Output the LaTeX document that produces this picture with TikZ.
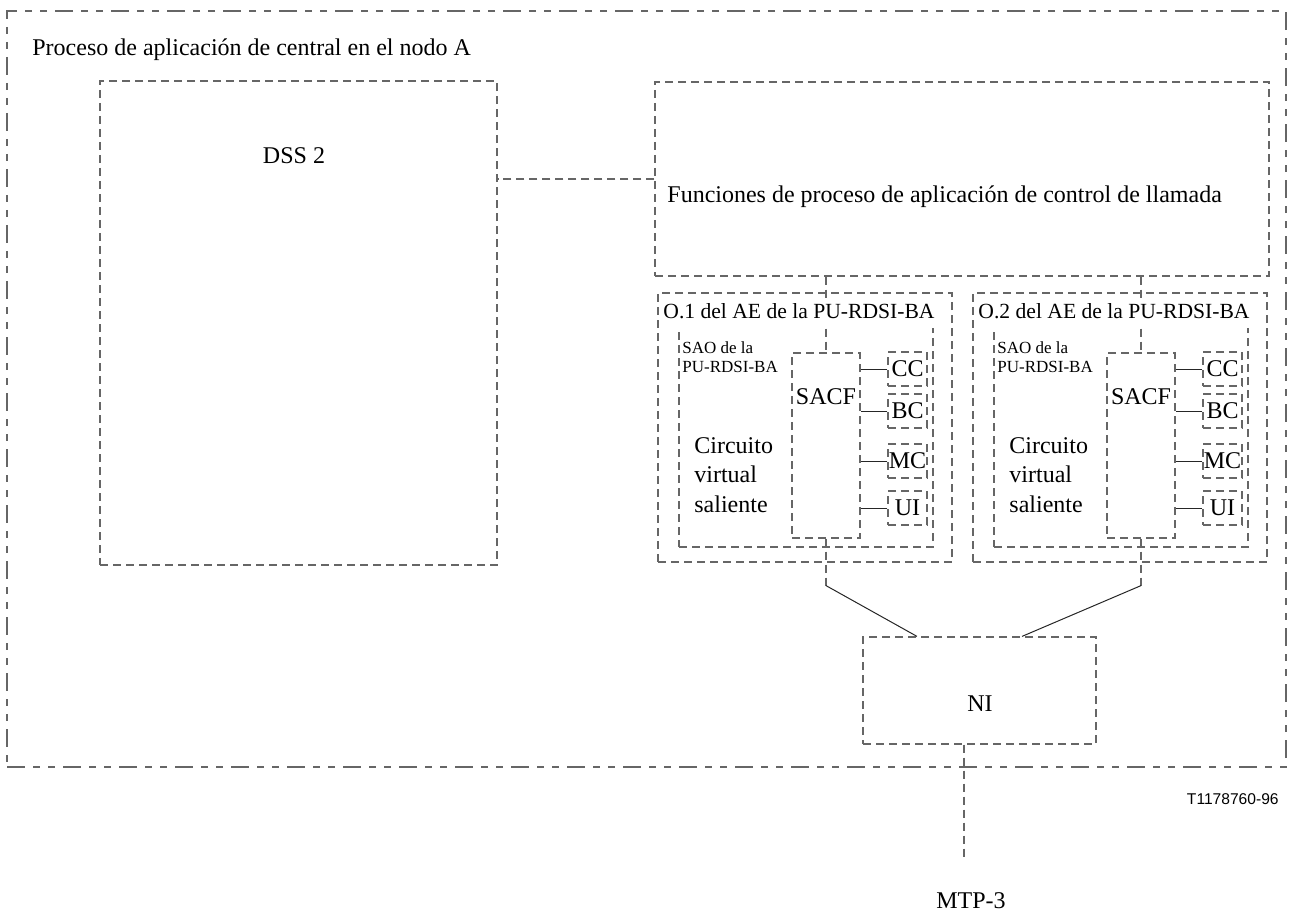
\documentclass[tikz,border=0pt]{standalone}
\usepackage{fontspec}
\setmainfont{Liberation Serif}
\newfontfamily\helv{Liberation Sans}
\usetikzlibrary{fit,positioning}

\tikzset{
  caja/.style={draw=black!60, line width=0.6pt, dash pattern=on 4pt off 2.5pt, inner sep=0pt},
  marco/.style={draw=black!60, line width=0.6pt, dash pattern=on 9pt off 4pt on 3.5pt off 4pt on 3.5pt off 4pt, inner sep=0pt},
  enlace/.style={draw=black!60, line width=0.6pt, dash pattern=on 4pt off 2.5pt},
  linea/.style={draw=black!85, line width=0.5pt},
  texto/.style={font=\fontsize{12}{14.75}\selectfont, inner sep=0pt},
  titae/.style={font=\fontsize{10.8}{12}\selectfont, anchor=west, fill=white, inner xsep=1pt, inner ysep=2pt, text height=8pt, text depth=3pt},
  sao/.style={font=\fontsize{8.5}{9.5}\selectfont, anchor=west, align=left, inner sep=0pt},
  mod/.style={caja, minimum width=19.5pt, minimum height=17pt, font=\fontsize{12}{14}\selectfont}
}

\begin{document}
\begin{tikzpicture}[x=0.5pt, y=-0.5pt]
  \useasboundingbox (0,0) rectangle (1289,915);

  \node[marco, fit={(7,11) (1286,767)}] (nodoA) {};
  \node[texto, anchor=west] (nodoAt) at (32,50) {Proceso de aplicación de central en el nodo A};

  \node[caja, fit={(100,81) (497,565)}] (dss) {};
  \node[texto] (dsst) at (294,156) {DSS 2};

  \node[caja, fit={(655,82) (1269,276)}] (llam) {};
  \node[texto, anchor=west] (llamt) at (667,197) {Funciones de proceso de aplicación de control de llamada};
  \draw[enlace] (llam.west) -- (llam.west -| dss.east);

  \node[caja, fit={(863,637) (1096,744)}] (ni) {};
  \node[texto] (nit) at (980,704) {NI};

  \foreach \n/\dx/\dn in {1/0/-31.25pt, 2/315/21.25pt} {
    \node[caja, fit={({658+\dx},293) ({952+\dx},562)}] (ae\n) {};
    \node[caja, fit={({679+\dx},323) ({933+\dx},547)}] (sao\n) {};
    \node[caja, fit={({792+\dx},353) ({860+\dx},538)}] (sacf\n) {};
    \node[texto] (sacft\n) at ([yshift=-22pt]sacf\n.north) {SACF};
    \node[sao] (saot\n) at ({682+\dx},357) {SAO de la\\PU-RDSI-BA};
    \node[texto, anchor=west, align=left] (cvs\n) at ({694+\dx},475) {Circuito\\virtual\\saliente};
    \foreach \k/\y in {CC/369, BC/411, MC/461, UI/508} {
      \node[mod] (\k\n) at ({907.5+\dx},\y) {\k};
      \draw[linea] (\k\n.west) -- (\k\n.west -| sacf\n.east);
    }
    \coordinate (q\n) at ([yshift=-11.5pt]ae\n.south -| sacf\n);
    \draw[enlace] (llam.south -| sacf\n) -- (sacf\n.north);
    \draw[enlace] (sacf\n.south) -- (q\n);
    \draw[linea] (q\n) -- ([xshift=\dn]ni.north);
    \node[titae] (aet\n) at ({661+\dx},313) {O.\n\ del AE de la PU-RDSI-BA};
  }

  \node[texto] (mtp) at (971,901) {MTP-3};
  \coordinate (mtpfin) at (964,860);
  \draw[enlace] (ni.south -| mtpfin) -- (mtpfin);

  \node[font=\helv\fontsize{7.8}{9}\selectfont, anchor=east, inner sep=0pt] (ref) at (1279,799) {T1178760-96};
\end{tikzpicture}
\end{document}
